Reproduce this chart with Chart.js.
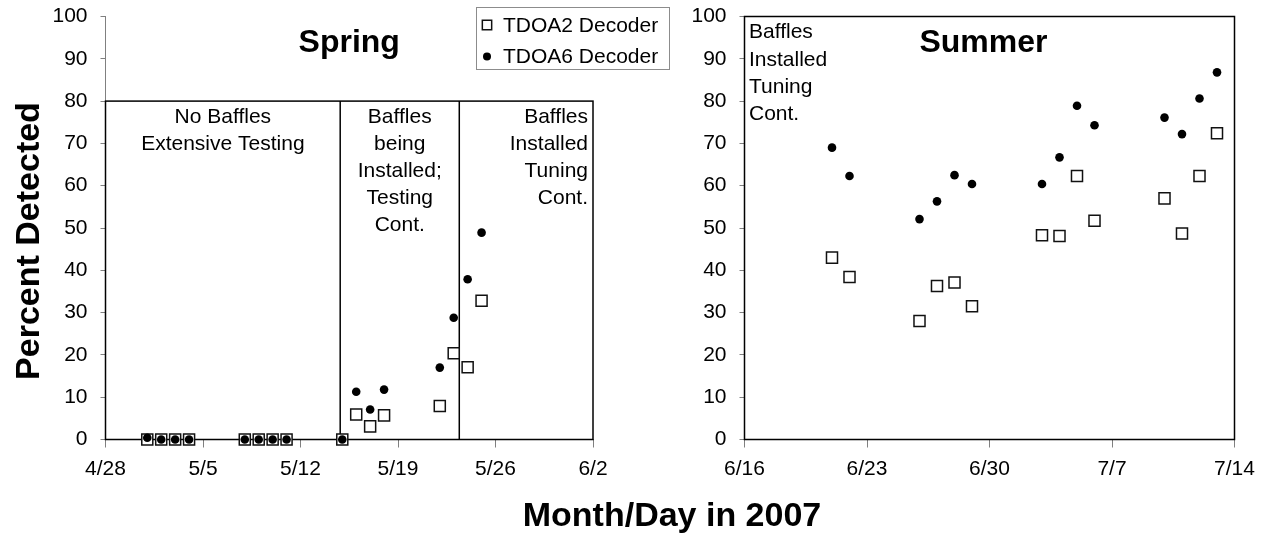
<!DOCTYPE html>
<html>
<head>
<meta charset="utf-8">
<script src="https://cdn.jsdelivr.net/npm/chart.js@4.4.0/dist/chart.umd.min.js"></script>
<style>
  html, body { margin: 0; padding: 0; background: #fff; }
  #wrap { position: relative; width: 1265px; height: 537px; }
  #springBox { position: absolute; left: 0; top: 0; width: 680px; height: 537px; }
  #summerBox { position: absolute; left: 620px; top: 0; width: 645px; height: 537px; }
  #xTitle { position: absolute; left: 472px; width: 400px; top: 495px; text-align: center;
            font: bold 34px 'Liberation Sans', Arial, sans-serif; color: #000; }
</style>
</head>
<body>
<div id="wrap">
  <div id="springBox"><canvas id="springChart"></canvas></div>
  <div id="summerBox"><canvas id="summerChart"></canvas></div>
  <div id="xTitle">Month/Day in 2007</div>
</div>
<script>
// ---- data ----
const springDates = ['5/1', '5/2', '5/3', '5/4', '5/8', '5/9', '5/10', '5/11', '5/15',
                     '5/16', '5/17', '5/18', '5/22', '5/23', '5/24', '5/25'];
const springTdoa2 = [0, 0, 0, 0, 0, 0, 0, 0, 0, 5.9, 3.1, 5.7, 7.9, 20.4, 17.1, 32.8];
const springTdoa6 = [0.4, 0, 0, 0, 0, 0, 0, 0, 0, 11.3, 7.1, 11.8, 17.0, 28.8, 37.9, 48.9];

const summerDates = ['6/21', '6/22', '6/26', '6/27', '6/28', '6/29', '7/3', '7/4', '7/5',
                     '7/6', '7/10', '7/11', '7/12', '7/13'];
const summerTdoa2 = [43.0, 38.4, 28.0, 36.3, 37.1, 31.5, 48.3, 48.1, 62.3, 51.7, 57.0, 48.7, 62.3, 72.4];
const summerTdoa6 = [69.0, 62.3, 52.1, 56.3, 62.5, 60.4, 60.4, 66.7, 78.9, 74.3, 76.1, 72.2, 80.6, 86.8];

const springTicks = ['4/28', '5/5', '5/12', '5/19', '5/26', '6/2'];
const summerTicks = ['6/16', '6/23', '6/30', '7/7', '7/14'];
const yTicks = [0, 10, 20, 30, 40, 50, 60, 70, 80, 90, 100];

// phase boxes in spring panel (fractional days where the dividers sit)
const springPhaseBreaks = ['5/14.85', '5/23.4'];
const springPhaseTop = 80;
const springPhaseNotes = [
  ['No Baffles', 'Extensive Testing'],
  ['Baffles', 'being', 'Installed;', 'Testing', 'Cont.'],
  ['Baffles', 'Installed', 'Tuning', 'Cont.']
];
const summerNote = ['Baffles', 'Installed', 'Tuning', 'Cont.'];

const FONT = "'Liberation Sans', Arial, sans-serif";
Chart.defaults.font.family = FONT;
Chart.defaults.font.size = 21;
Chart.defaults.color = '#000';

// month/day string -> day number (2007)
function dayNum(md) {
  const p = md.split('/').map(parseFloat);
  return Date.UTC(2007, p[0] - 1, 1) / 86400000 + p[1] - 1;
}

function points(dates, vals) {
  return dates.map((d, i) => ({ x: dayNum(d), y: vals[i] }));
}

function datasets(dates, a, b) {
  return [
    { label: 'TDOA2 Decoder', data: points(dates, a), pointStyle: 'rect', pointRadius: 7.8,
      backgroundColor: '#fff', borderColor: '#111', borderWidth: 1.5, order: 2, clip: false },
    { label: 'TDOA6 Decoder', data: points(dates, b), pointStyle: 'circle', pointRadius: 4.3,
      backgroundColor: '#000', borderColor: '#000', borderWidth: 0, order: 1, clip: false }
  ];
}

function noPad(s) {
  s.paddingTop = 0; s.paddingBottom = 0; s.paddingLeft = 0; s.paddingRight = 0;
}

function scales(tickLabels, yWidth) {
  return {
    x: {
      type: 'linear',
      min: dayNum(tickLabels[0]),
      max: dayNum(tickLabels[tickLabels.length - 1]),
      afterBuildTicks: s => { s.ticks = tickLabels.map(t => ({ value: dayNum(t) })); },
      afterFit: s => { s.height = 97.5; noPad(s); },
      ticks: { callback: (v, i) => tickLabels[i], padding: 9, maxRotation: 0, autoSkip: false },
      grid: { drawOnChartArea: false, tickLength: 8, color: '#808080' },
      border: { color: '#808080' }
    },
    y: {
      min: 0, max: 100,
      afterBuildTicks: s => { s.ticks = yTicks.map(v => ({ value: v })); },
      afterFit: s => { s.width = yWidth; noPad(s); },
      ticks: { padding: 13 },
      grid: { drawOnChartArea: false, tickLength: 5, color: '#808080' },
      border: { color: '#808080' }
    }
  };
}

function textLines(ctx, lines, x, y, gap, align) {
  ctx.textAlign = align;
  lines.forEach((t, i) => ctx.fillText(t, x, y + i * gap));
}

// spring: phase box, notes, title, legend, y title
const springDecor = {
  id: 'springDecor',
  beforeDatasetsDraw(chart) {
    const { ctx, chartArea: a, scales: { x, y } } = chart;
    const top = y.getPixelForValue(springPhaseTop);
    const breaks = springPhaseBreaks.map(b => x.getPixelForValue(dayNum(b)));
    ctx.save();
    ctx.strokeStyle = '#000';
    ctx.lineWidth = 1.5;
    ctx.strokeRect(a.left, top, a.right - a.left, a.bottom - top);
    breaks.forEach(bx => {
      ctx.beginPath(); ctx.moveTo(bx, top); ctx.lineTo(bx, a.bottom); ctx.stroke();
    });
    ctx.fillStyle = '#000';
    ctx.font = '21px ' + FONT;
    ctx.textBaseline = 'middle';
    textLines(ctx, springPhaseNotes[0], (a.left + breaks[0]) / 2, top + 16, 27, 'center');
    textLines(ctx, springPhaseNotes[1], (breaks[0] + breaks[1]) / 2, top + 16, 27, 'center');
    textLines(ctx, springPhaseNotes[2], a.right - 5, top + 16, 27, 'right');
    ctx.restore();
  },
  afterDraw(chart) {
    const { ctx, chartArea: a } = chart;
    ctx.save();
    ctx.fillStyle = '#000';
    ctx.textBaseline = 'middle';
    ctx.textAlign = 'center';
    ctx.font = 'bold 32px ' + FONT;
    ctx.fillText('Spring', (a.left + a.right) / 2, 43);
    // y title
    ctx.save();
    ctx.translate(30, 241);
    ctx.rotate(-Math.PI / 2);
    ctx.font = 'bold 34px ' + FONT;
    ctx.fillText('Percent Detected', 0, 0);
    ctx.restore();
    // legend
    ctx.strokeStyle = '#8c8c8c';
    ctx.lineWidth = 1;
    ctx.strokeRect(476.5, 7.5, 193, 62);
    ctx.font = '21px ' + FONT;
    ctx.textAlign = 'left';
    chart.data.datasets.forEach((d, i) => {
      const cy = 25 + i * 31.5;
      ctx.fillStyle = d.backgroundColor;
      ctx.strokeStyle = d.borderColor;
      ctx.lineWidth = d.borderWidth || 0;
      Chart.helpers.drawPoint(ctx, { pointStyle: d.pointStyle, radius: d.pointStyle === 'rect' ? 6.6 : 4,
        borderWidth: d.borderWidth }, 487, cy);
      ctx.fillStyle = '#000';
      ctx.fillText(d.label, 503, cy + 1);
    });
    ctx.restore();
  }
};

const summerDecor = {
  id: 'summerDecor',
  afterDraw(chart) {
    const { ctx, chartArea: a } = chart;
    ctx.save();
    ctx.strokeStyle = '#000';
    ctx.lineWidth = 1.5;
    ctx.strokeRect(a.left, a.top, a.right - a.left, a.bottom - a.top);
    ctx.fillStyle = '#000';
    ctx.textBaseline = 'middle';
    ctx.font = '21px ' + FONT;
    textLines(ctx, summerNote, a.left + 4.5, a.top + 16, 27.3, 'left');
    ctx.font = 'bold 32px ' + FONT;
    ctx.textAlign = 'center';
    ctx.fillText('Summer', (a.left + a.right) / 2 - 6, 43);
    ctx.restore();
  }
};

const common = {
  responsive: true,
  maintainAspectRatio: false,
  animation: false,
  plugins: { legend: { display: false }, tooltip: { enabled: false } },
  events: []
};

new Chart(document.getElementById('springChart'), {
  type: 'scatter',
  data: { datasets: datasets(springDates, springTdoa2, springTdoa6) },
  options: Object.assign({}, common, {
    layout: { padding: { top: 16.5, right: 87, left: 0, bottom: 0 } },
    scales: scales(springTicks, 105.5)
  }),
  plugins: [springDecor]
});

new Chart(document.getElementById('summerChart'), {
  type: 'scatter',
  data: { datasets: datasets(summerDates, summerTdoa2, summerTdoa6) },
  options: Object.assign({}, common, {
    layout: { padding: { top: 16.5, right: 30.5, left: 0, bottom: 0 } },
    scales: scales(summerTicks, 124.5)
  }),
  plugins: [summerDecor]
});
</script>
</body>
</html>
